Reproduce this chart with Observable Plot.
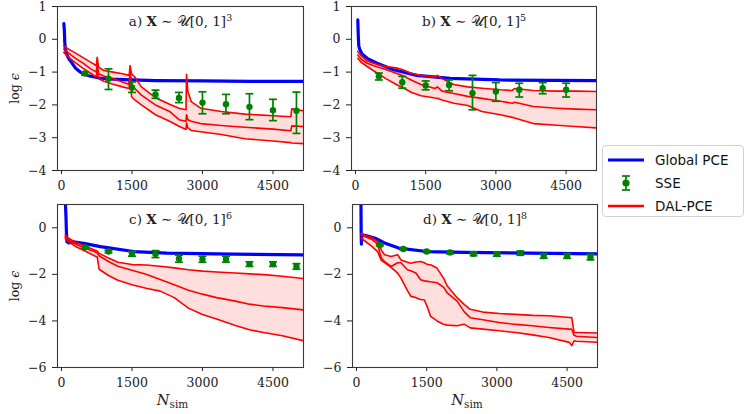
<!DOCTYPE html>
<html>
<head>
<meta charset="utf-8">
<script src="https://cdn.jsdelivr.net/npm/d3@7"></script>
<script src="https://cdn.jsdelivr.net/npm/@observablehq/plot@0.6"></script>
<style>
  html, body { margin: 0; padding: 0; background: #fff; }
  #wrap { position: relative; width: 748px; height: 414px; overflow: hidden; background: #fff; }
  #wrap > svg { position: absolute; overflow: visible; }
  #legend { position: absolute; left: 602px; top: 145px; width: 140px; height: 70px;
            border: 1.5px solid #d0d0d0; border-radius: 4px; background: #fff;
            font-family: "DejaVu Sans", sans-serif; font-size: 13.5px; color: #111; }
  #legend .row { position: absolute; left: 4px; height: 22px; display: flex; align-items: center; }
  #legend .row svg { position: static; display: block; }
  #legend .row span { margin-left: 11px; }
</style>
</head>
<body>
<div id="wrap"><div id="legend"></div></div>
<script>
// ---------- data ----------
const xTicks = [0, 1500, 3000, 4500];
const yTicksTop = [1, 0, -1, -2, -3, -4];
const yTicksBottom = [0, -2, -4, -6];
const sseX = [500, 1000, 1500, 2000, 2500, 3000, 3500, 4000, 4500, 5000];
const sseXb = [500, 1000, 1500, 2000, 2500, 3000, 3500, 4000, 4500];

// panel a
const a_x     = [50,150,300,450,600,740,760,790,900,1100,1300,1440,1460,1490,1560,1700,2000,2300,2500,2650,2660,2690,2760,2960,3400,3900,4500,4880,4900,5150];
const a_upper = [-0.2,-0.3,-0.42,-0.55,-0.68,-0.8,-0.55,-0.85,-0.95,-1.0,-1.05,-1.1,-0.8,-1.05,-1.15,-1.45,-1.78,-1.98,-2.1,-2.15,-1.07,-1.6,-1.9,-2.1,-2.2,-2.28,-2.33,-2.36,-2.12,-2.18];
const a_median= [-0.3,-0.42,-0.58,-0.72,-0.88,-1.0,-0.75,-1.05,-1.12,-1.2,-1.3,-1.38,-1.0,-1.4,-1.5,-1.7,-2.0,-2.2,-2.45,-2.5,-2.3,-2.45,-2.5,-2.57,-2.63,-2.68,-2.74,-2.79,-2.64,-2.66];
const a_lower = [-0.4,-0.55,-0.72,-0.88,-1.02,-1.15,-0.9,-1.2,-1.28,-1.37,-1.45,-1.5,-0.9,-1.75,-1.85,-2.0,-2.3,-2.5,-2.65,-2.75,-2.55,-2.7,-2.78,-2.82,-2.9,-3.03,-3.1,-3.15,-3.16,-3.18];
const a_gx = [50,60,70,80,100,130,170,200,250,300,400,500,600,800,1000,1500,2000,3000,4000,5150];
const a_gy = [0.48,0.3,-0.1,-0.26,-0.4,-0.52,-0.62,-0.67,-0.78,-0.88,-1.0,-1.07,-1.12,-1.18,-1.21,-1.24,-1.26,-1.27,-1.28,-1.28];
const a_sse   = [-1.04,-1.2,-1.47,-1.68,-1.79,-1.93,-1.98,-2.06,-2.16,-2.18];
const a_sseHi = [-0.99,-0.9,-1.3,-1.55,-1.62,-1.6,-1.68,-1.66,-1.83,-1.61];
const a_sseLo = [-1.09,-1.53,-1.62,-1.8,-1.93,-2.27,-2.27,-2.45,-2.48,-2.87];

// panel b
const b_x     = [50,120,250,450,650,900,1000,1200,1400,1700,1750,1850,2100,2400,2700,3100,3350,3400,3800,4300,4700,5150];
const b_upper = [-0.37,-0.5,-0.66,-0.76,-0.83,-0.88,-0.92,-1.04,-1.1,-1.15,-1.1,-1.2,-1.38,-1.45,-1.49,-1.54,-1.56,-1.5,-1.56,-1.58,-1.58,-1.59];
const b_median= [-0.48,-0.6,-0.73,-0.84,-0.92,-1.05,-1.1,-1.25,-1.38,-1.5,-1.45,-1.58,-1.65,-1.74,-1.8,-1.89,-1.95,-1.92,-2.05,-2.1,-2.13,-2.15];
const b_lower = [-0.58,-0.7,-0.83,-1.02,-1.2,-1.4,-1.46,-1.62,-1.72,-1.79,-1.8,-1.85,-1.95,-2.02,-2.2,-2.3,-2.38,-2.4,-2.57,-2.62,-2.66,-2.7];
const b_gx = [50,60,70,90,140,250,460,815,1310,2020,3080,5150];
const b_gy = [0.59,0.1,-0.2,-0.3,-0.45,-0.58,-0.73,-0.93,-1.1,-1.19,-1.24,-1.26];
const b_sse   = [-1.13,-1.31,-1.41,-1.39,-1.64,-1.59,-1.54,-1.49,-1.54];
const b_sseHi = [-1.03,-1.13,-1.27,-1.24,-1.1,-1.32,-1.34,-1.32,-1.34];
const b_sseLo = [-1.24,-1.49,-1.54,-1.57,-2.15,-1.89,-1.76,-1.66,-1.76];

// panel c
const c_x     = [80,150,300,500,700,760,800,1000,1200,1500,1800,2100,2400,2700,3000,3300,3700,4000,4300,4700,5150];
const c_upper = [-0.3,-0.45,-0.62,-0.78,-0.95,-1.0,-1.1,-1.3,-1.48,-1.58,-1.6,-1.65,-1.72,-1.8,-1.86,-1.9,-1.94,-1.98,-2.01,-2.08,-2.18];
const c_median= [-0.38,-0.52,-0.7,-0.88,-1.02,-1.08,-1.2,-1.45,-1.65,-1.82,-2.0,-2.22,-2.45,-2.68,-2.85,-3.0,-3.15,-3.28,-3.36,-3.43,-3.53];
const c_lower = [-0.45,-0.6,-0.8,-1.0,-1.2,-1.25,-1.78,-2.05,-2.25,-2.45,-2.6,-2.72,-3.0,-3.45,-3.72,-3.92,-4.2,-4.38,-4.5,-4.64,-4.85];
const c_gx = [80,95,105,115,130,150,250,474,828,1536,2243,3659,5150];
const c_gy = [1.2,0.5,-0.2,-0.6,-0.45,-0.65,-0.6,-0.67,-0.81,-1.02,-1.09,-1.13,-1.16];
const c_sse   = [-0.84,-1.02,-1.12,-1.13,-1.33,-1.35,-1.35,-1.56,-1.56,-1.66];
const c_sseHi = [-0.79,-0.97,-1.02,-0.98,-1.18,-1.22,-1.22,-1.46,-1.46,-1.54];
const c_sseLo = [-0.89,-1.07,-1.22,-1.28,-1.48,-1.48,-1.48,-1.66,-1.66,-1.78];

// panel d
const d_x     = [100,200,330,450,530,600,740,880,950,1090,1160,1270,1370,1450,1520,1580,1720,1860,1940,2150,2300,2430,2700,3050,3400,3760,4110,4550,4600,4650,4700,5150];
const d_upper = [-0.24,-0.33,-0.42,-0.6,-0.95,-1.16,-1.23,-1.16,-1.38,-1.48,-1.52,-1.47,-1.45,-1.5,-1.58,-1.59,-1.73,-2.16,-2.5,-3.0,-3.29,-3.5,-3.62,-3.68,-3.72,-3.76,-3.78,-3.85,-3.86,-4.5,-4.5,-4.52];
const d_median= [-0.31,-0.4,-0.5,-0.7,-1.3,-1.45,-1.66,-1.5,-1.5,-1.8,-1.85,-1.94,-2.23,-2.28,-2.3,-2.32,-2.36,-2.55,-2.8,-3.15,-3.6,-3.86,-3.95,-4.07,-4.15,-4.21,-4.28,-4.35,-4.36,-4.62,-4.66,-4.71];
const d_lower = [-0.45,-0.6,-0.8,-1.02,-1.4,-1.5,-1.7,-1.95,-2.16,-2.7,-2.94,-3.0,-3.08,-3.1,-3.43,-3.79,-4.0,-4.14,-4.18,-4.21,-4.14,-4.3,-4.35,-4.42,-4.5,-4.6,-4.71,-4.92,-5.06,-4.85,-4.87,-4.92];
const d_gx = [95,100,105,115,200,400,600,900,1500,2300,3700,5150];
const d_gy = [1.2,-0.2,-0.7,-0.3,-0.33,-0.45,-0.65,-0.87,-1.02,-1.06,-1.09,-1.12];
const d_sse   = [-0.74,-0.91,-1.02,-1.06,-1.12,-1.13,-1.09,-1.21,-1.21,-1.26];
const d_sseHi = [-0.7,-0.87,-0.98,-1.0,-1.04,-1.04,-1.0,-1.11,-1.11,-1.14];
const d_sseLo = [-0.78,-0.95,-1.06,-1.12,-1.2,-1.22,-1.18,-1.31,-1.31,-1.38];

const titles = [
  {key: "a", exp: "3"}, {key: "b", exp: "5"}, {key: "c", exp: "6"}, {key: "d", exp: "8"}
];

// ---------- drawing ----------
const RED = "#ff0000", BLUE = "#0000ff", GREEN = "#008000";
const capSymbol = {
  draw(ctx, size) { const w = Math.sqrt(size / Math.PI); ctx.moveTo(-w, 0); ctx.lineTo(w, 0); }
};
const fmt = d => d < 0 ? "\u2212" + (-d) : String(d);

function panel(cfg) {
  const band = cfg.x.map((x, i) => ({x, up: cfg.up[i], mid: cfg.mid[i], lo: cfg.lo[i]}));
  const glob = cfg.gx.map((x, i) => ({x, y: cfg.gy[i]}));
  const sse = cfg.sx.map((x, i) => ({x, y: cfg.sy[i], hi: cfg.shi[i], lo: cfg.slo[i]}));
  const titleKey = cfg.title.key + ") X \u223C \uD835\uDCB0[0, 1]" + cfg.title.exp;
  const marks = [
    Plot.areaY(band, {x: "x", y1: "lo", y2: "up", fill: RED, fillOpacity: 0.13, clip: true}),
    Plot.lineY(glob, {x: "x", y: "y", stroke: BLUE, strokeWidth: 3.2, clip: true}),
    Plot.lineY(band, {x: "x", y: "up", stroke: RED, strokeWidth: 1.6, clip: true}),
    Plot.lineY(band, {x: "x", y: "mid", stroke: RED, strokeWidth: 1.6, clip: true}),
    Plot.lineY(band, {x: "x", y: "lo", stroke: RED, strokeWidth: 1.6, clip: true}),
    Plot.ruleX(sse, {x: "x", y1: "lo", y2: "hi", stroke: GREEN, strokeWidth: 1.7}),
    Plot.dot(sse, {x: "x", y: "hi", symbol: capSymbol, r: 4, stroke: GREEN, strokeWidth: 1.7, fill: "none"}),
    Plot.dot(sse, {x: "x", y: "lo", symbol: capSymbol, r: 4, stroke: GREEN, strokeWidth: 1.7, fill: "none"}),
    Plot.dot(sse, {x: "x", y: "y", r: 3.2, fill: GREEN, stroke: "none"}),
    Plot.frame({stroke: "#3a3a3a", strokeWidth: 1.1}),
    Plot.axisX({ticks: xTicks, tickFormat: d => String(d), tickSize: 4, tickPadding: 7, label: null}),
    Plot.axisY({ticks: cfg.yticks, tickFormat: fmt, tickSize: 5, tickPadding: 6,
                label: cfg.ylabel ? "log \u03F5" : null, labelAnchor: "center", labelArrow: "none", labelOffset: 47}),
    Plot.text([titleKey], {frameAnchor: "top", dy: 10, fontSize: 13.5})
  ];
  if (cfg.xlabel) marks.push(Plot.text(["Nsim"], {frameAnchor: "bottom", dy: 37, dx: -8, fontSize: 14.5}));
  const svg = Plot.plot({
    width: 305, height: cfg.height,
    marginLeft: 57, marginRight: cfg.mr, marginTop: cfg.mt, marginBottom: cfg.mb,
    x: {domain: [-85, 5150]},
    y: {domain: cfg.ydom},
    style: {fontFamily: "'DejaVu Serif', serif", fontSize: "12.5px", color: "#222", background: "transparent", overflow: "visible"},
    marks
  });
  svg.style.left = cfg.left + "px";
  svg.style.top = cfg.top + "px";
  // rich text for title / labels
  d3.select(svg).selectAll("text").each(function() {
    const t = d3.select(this);
    const s = this.textContent;
    if (s === titleKey) {
      t.text(null);
      t.append("tspan").text(cfg.title.key + ") ");
      t.append("tspan").attr("font-weight", "bold").text("X");
      t.append("tspan").text(" \u223C \uD835\uDCB0[0, 1]");
      t.append("tspan").attr("dy", "-5").attr("font-size", "9.5").text(cfg.title.exp);
    } else if (s === "Nsim") {
      t.text(null);
      t.append("tspan").attr("font-style", "italic").text("N");
      t.append("tspan").attr("dy", "3").attr("font-size", "10.5").text("sim");
    } else if (s === "log \u03F5") {
      t.text(null);
      t.append("tspan").text("log ");
      t.append("tspan").attr("font-style", "italic").text("\u03F5");
    }
  });
  document.getElementById("wrap").appendChild(svg);
}

panel({x: a_x, up: a_upper, mid: a_median, lo: a_lower, gx: a_gx, gy: a_gy,
       sx: sseX, sy: a_sse, shi: a_sseHi, slo: a_sseLo, ydom: [-4, 1], yticks: yTicksTop,
       title: titles[0], ylabel: true, xlabel: false, left: 0, top: 0, height: 200, mt: 6, mb: 30, mr: 2});
panel({x: b_x, up: b_upper, mid: b_median, lo: b_lower, gx: b_gx, gy: b_gy,
       sx: sseXb, sy: b_sse, shi: b_sseHi, slo: b_sseLo, ydom: [-4, 1], yticks: yTicksTop,
       title: titles[1], ylabel: false, xlabel: false, left: 294, top: 0, height: 200, mt: 6, mb: 30, mr: 3});
panel({x: c_x, up: c_upper, mid: c_median, lo: c_lower, gx: c_gx, gy: c_gy,
       sx: sseX, sy: c_sse, shi: c_sseHi, slo: c_sseLo, ydom: [-6, 1], yticks: yTicksBottom,
       title: titles[2], ylabel: true, xlabel: true, left: 0, top: 199, height: 215, mt: 5, mb: 47, mr: 2});
panel({x: d_x, up: d_upper, mid: d_median, lo: d_lower, gx: d_gx, gy: d_gy,
       sx: sseX, sy: d_sse, shi: d_sseHi, slo: d_sseLo, ydom: [-6, 1], yticks: yTicksBottom,
       title: titles[3], ylabel: false, xlabel: true, left: 295, top: 199, height: 215, mt: 5, mb: 47, mr: 3});

// ---------- legend ----------
const legendItems = [
  {label: "Global PCE", kind: "line", color: BLUE, top: 3},
  {label: "SSE", kind: "err", color: GREEN, top: 26},
  {label: "DAL-PCE", kind: "line", color: RED, top: 49}
];
const leg = d3.select("#legend");
for (const it of legendItems) {
  const row = leg.append("div").attr("class", "row").style("top", it.top + "px");
  const s = row.append("svg").attr("width", 37).attr("height", 22);
  if (it.kind === "line") {
    s.append("line").attr("x1", 1).attr("x2", 37).attr("y1", 11).attr("y2", 11)
      .attr("stroke", it.color).attr("stroke-width", it.color === BLUE ? 3 : 2.5);
  } else {
    s.append("line").attr("x1", 19).attr("x2", 19).attr("y1", 4).attr("y2", 18).attr("stroke", it.color).attr("stroke-width", 1.7);
    s.append("line").attr("x1", 15).attr("x2", 23).attr("y1", 4).attr("y2", 4).attr("stroke", it.color).attr("stroke-width", 1.7);
    s.append("line").attr("x1", 15).attr("x2", 23).attr("y1", 18).attr("y2", 18).attr("stroke", it.color).attr("stroke-width", 1.7);
    s.append("circle").attr("cx", 19).attr("cy", 11).attr("r", 3.6).attr("fill", it.color);
  }
  row.append("span").text(it.label);
}
</script>
</body>
</html>
